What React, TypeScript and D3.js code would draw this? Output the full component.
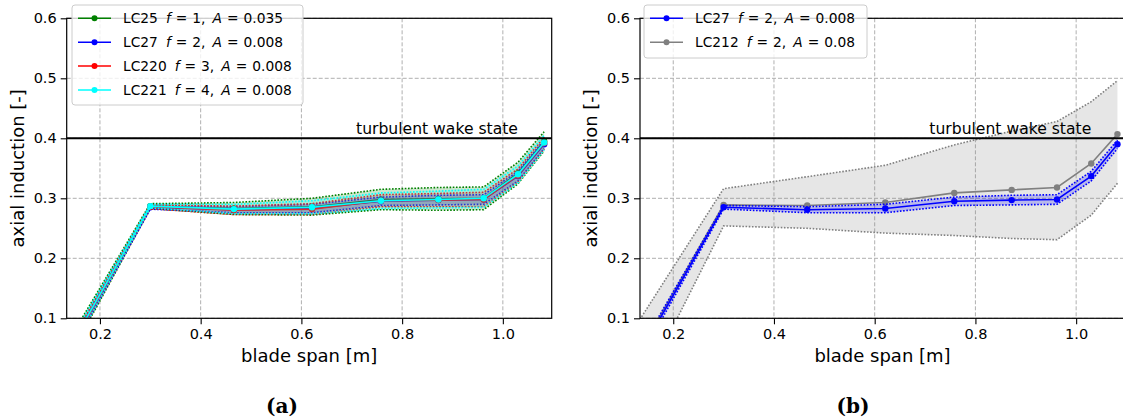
import React, { useRef, useEffect } from "react";
import * as d3 from "d3";

// blade span positions of the sections [m]
const span = [0.12, 0.3, 0.466, 0.621, 0.758, 0.872, 0.962, 1.03, 1.082];

// panel (a)
const lc25Mean = [0.022, 0.287, 0.283, 0.286, 0.298, 0.299, 0.3, 0.342, 0.395];
const lc25Std = [0.016, 0.004, 0.01, 0.014, 0.017, 0.019, 0.019, 0.018, 0.016];
const lc27Mean = [0.021, 0.285, 0.281, 0.283, 0.295, 0.297, 0.298, 0.337, 0.39];
const lc27Std = [0.008, 0.003, 0.005, 0.007, 0.007, 0.008, 0.008, 0.008, 0.007];
const lc220Mean = [0.02, 0.286, 0.28, 0.282, 0.296, 0.297, 0.298, 0.338, 0.392];
const lc220Std = [0.01, 0.003, 0.007, 0.009, 0.01, 0.011, 0.012, 0.011, 0.01];
const lc221Mean = [0.022, 0.287, 0.282, 0.285, 0.296, 0.298, 0.3, 0.34, 0.393];
const lc221Std = [0.012, 0.003, 0.008, 0.011, 0.013, 0.014, 0.015, 0.014, 0.012];

// panel (b)
const lc212Mean = [0.025, 0.289, 0.288, 0.293, 0.309, 0.314, 0.318, 0.358, 0.407];
const lc212Lower = [-0.047, 0.254, 0.25, 0.242, 0.238, 0.233, 0.231, 0.272, 0.325];
const lc212Upper = [0.08, 0.316, 0.336, 0.355, 0.389, 0.412, 0.428, 0.461, 0.496];

const xTicks = [0.2, 0.4, 0.6, 0.8, 1.0];
const yTicks = [0.1, 0.2, 0.3, 0.4, 0.5, 0.6];
const xDomain = [0.134, 1.097];
const yDomain = [0.1, 0.6];
const wakeState = 0.4;

type Series = {
  name: string;
  f: string;
  A: string;
  color: string;
  mean: number[];
  lower: number[];
  upper: number[];
};

const withStd = (name: string, f: string, A: string, color: string, mean: number[], std: number[]): Series => ({
  name,
  f,
  A,
  color,
  mean,
  lower: mean.map((m, i) => m - std[i]),
  upper: mean.map((m, i) => m + std[i]),
});

const panelA: Series[] = [
  withStd("LC25", "1", "0.035", "#008000", lc25Mean, lc25Std),
  withStd("LC27", "2", "0.008", "#0000ff", lc27Mean, lc27Std),
  withStd("LC220", "3", "0.008", "#ff0000", lc220Mean, lc220Std),
  withStd("LC221", "4", "0.008", "#00ffff", lc221Mean, lc221Std),
];

const panelB: Series[] = [
  withStd("LC27", "2", "0.008", "#0000ff", lc27Mean, lc27Std),
  { name: "LC212", f: "2", A: "0.08", color: "#808080", mean: lc212Mean, lower: lc212Lower, upper: lc212Upper },
];

const FONT = "DejaVu Sans";
const TOP = 18.3;
const BOTTOM = 318.3;
const AX_W = 485;

const drawPanel = (
  svg: d3.Selection<SVGSVGElement, unknown, null, undefined>,
  id: string,
  left: number,
  series: Series[],
  drawOrder: number[],
  legend: { x: number; y: number; w: number; h: number },
  caption: string,
  captionX: number
) => {
  const x = d3.scaleLinear().domain(xDomain).range([left, left + AX_W]);
  const y = d3.scaleLinear().domain(yDomain).range([BOTTOM, TOP]);
  const g = svg.append("g");

  g.append("clipPath")
    .attr("id", "clip-" + id)
    .append("rect")
    .attr("x", left)
    .attr("y", TOP)
    .attr("width", AX_W)
    .attr("height", BOTTOM - TOP);

  // grid
  g.append("g")
    .selectAll("line")
    .data(xTicks)
    .join("line")
    .attr("x1", (d) => x(d))
    .attr("x2", (d) => x(d))
    .attr("y1", TOP)
    .attr("y2", BOTTOM)
    .attr("stroke", "#b0b0b0")
    .attr("stroke-width", 1)
    .attr("stroke-dasharray", "4,2");
  g.append("g")
    .selectAll("line")
    .data(yTicks)
    .join("line")
    .attr("x1", left)
    .attr("x2", left + AX_W)
    .attr("y1", (d) => y(d))
    .attr("y2", (d) => y(d))
    .attr("stroke", "#b0b0b0")
    .attr("stroke-width", 1)
    .attr("stroke-dasharray", "4,2");

  const data = g.append("g").attr("clip-path", `url(#clip-${id})`);
  const line = (vals: number[]) =>
    d3
      .line<number>()
      .x((_, i) => x(span[i]))
      .y((d) => y(d))(vals) as string;

  drawOrder.forEach((k) => {
    const s = series[k];
    const band = d3
      .area<number>()
      .x((_, i) => x(span[i]))
      .y0((_, i) => y(s.lower[i]))
      .y1((_, i) => y(s.upper[i]));
    data.append("path").attr("d", band(s.mean) as string).attr("fill", s.color).attr("fill-opacity", 0.2);
    [s.lower, s.upper].forEach((b) => {
      data
        .append("path")
        .attr("d", line(b))
        .attr("fill", "none")
        .attr("stroke", s.color)
        .attr("stroke-width", 1.6)
        .attr("stroke-dasharray", "1.6,1.6");
    });
    data
      .append("path")
      .attr("d", line(s.mean))
      .attr("fill", "none")
      .attr("stroke", s.color)
      .attr("stroke-width", 1.6);
    data
      .append("g")
      .selectAll("circle")
      .data(s.mean)
      .join("circle")
      .attr("cx", (_, i) => x(span[i]))
      .attr("cy", (d) => y(d))
      .attr("r", 3.2)
      .attr("fill", s.color);
  });

  // turbulent wake state
  g.append("line")
    .attr("x1", left)
    .attr("x2", left + AX_W)
    .attr("y1", y(wakeState))
    .attr("y2", y(wakeState))
    .attr("stroke", "#000")
    .attr("stroke-width", 2);
  g.append("text")
    .attr("x", x(1.03))
    .attr("y", y(wakeState) - 4)
    .attr("text-anchor", "end")
    .attr("font-family", FONT)
    .attr("font-size", 15.6)
    .text("turbulent wake state");

  // frame
  g.append("rect")
    .attr("x", left)
    .attr("y", TOP)
    .attr("width", AX_W)
    .attr("height", BOTTOM - TOP)
    .attr("fill", "none")
    .attr("stroke", "#000")
    .attr("stroke-width", 1.2);

  // axes
  const ax = g
    .append("g")
    .attr("transform", `translate(0,${BOTTOM})`)
    .call(d3.axisBottom(x).tickValues(xTicks).tickFormat(d3.format(".1f")).tickSize(6).tickPadding(4));
  const ay = g
    .append("g")
    .attr("transform", `translate(${left},0)`)
    .call(d3.axisLeft(y).tickValues(yTicks).tickFormat(d3.format(".1f")).tickSize(6).tickPadding(4));
  [ax, ay].forEach((a) => {
    a.select(".domain").remove();
    a.attr("font-family", FONT).attr("font-size", 14.5);
    a.selectAll("text").attr("fill", "#000");
    a.selectAll("line").attr("stroke", "#000").attr("stroke-width", 1.1);
  });

  g.append("text")
    .attr("x", left + AX_W / 2)
    .attr("y", 362)
    .attr("text-anchor", "middle")
    .attr("font-family", FONT)
    .attr("font-size", 18)
    .text("blade span [m]");
  g.append("text")
    .attr("transform", `translate(${left - 43},${(TOP + BOTTOM) / 2}) rotate(-90)`)
    .attr("text-anchor", "middle")
    .attr("font-family", FONT)
    .attr("font-size", 18)
    .text("axial induction [-]");

  // legend
  const lg = g.append("g");
  lg.append("rect")
    .attr("x", legend.x)
    .attr("y", legend.y)
    .attr("width", legend.w)
    .attr("height", legend.h)
    .attr("rx", 3)
    .attr("fill", "#fff")
    .attr("fill-opacity", 0.8)
    .attr("stroke", "#cccccc")
    .attr("stroke-width", 1);
  series.forEach((s, i) => {
    const cy = legend.y + 13.3 + i * 23.9;
    const hx = legend.x + 6;
    lg.append("line")
      .attr("x1", hx)
      .attr("x2", hx + 33)
      .attr("y1", cy)
      .attr("y2", cy)
      .attr("stroke", s.color)
      .attr("stroke-width", 1.5);
    lg.append("circle").attr("cx", hx + 16.5).attr("cy", cy).attr("r", 3).attr("fill", s.color);
    const t = lg
      .append("text")
      .attr("x", hx + 45)
      .attr("y", cy + 5)
      .attr("font-family", FONT)
      .attr("font-size", 13.8);
    t.append("tspan").text(s.name);
    t.append("tspan").attr("dx", 8).attr("font-style", "italic").text("f");
    t.append("tspan").attr("dx", 5).text("=");
    t.append("tspan").attr("dx", 5).text(s.f + ",");
    t.append("tspan").attr("dx", 7).attr("font-style", "italic").text("A");
    t.append("tspan").attr("dx", 5).text("=");
    t.append("tspan").attr("dx", 5).text(s.A);
  });

  g.append("text")
    .attr("x", captionX)
    .attr("y", 413)
    .attr("text-anchor", "middle")
    .attr("font-family", "DejaVu Serif")
    .attr("font-weight", "bold")
    .attr("font-size", 20)
    .text(caption);
};

const App = () => {
  const svgRef = useRef<SVGSVGElement>(null);

  useEffect(() => {
    if (!svgRef.current) return;
    const svg = d3.select(svgRef.current);
    svg.selectAll("*").remove();

    drawPanel(svg, "a", 66.7, panelA, [0, 1, 2, 3], { x: 72, y: 5, w: 231, h: 100 }, "(a)", 282);
    drawPanel(svg, "b", 640, panelB, [1, 0], { x: 644, y: 5, w: 223, h: 53 }, "(b)", 853);
  }, []);

  return (
    <div style={{ position: "absolute", left: 0, top: 0 }}>
      <svg ref={svgRef} width={1123} height={420} style={{ display: "block", background: "#fff" }}></svg>
    </div>
  );
};

export default App;
